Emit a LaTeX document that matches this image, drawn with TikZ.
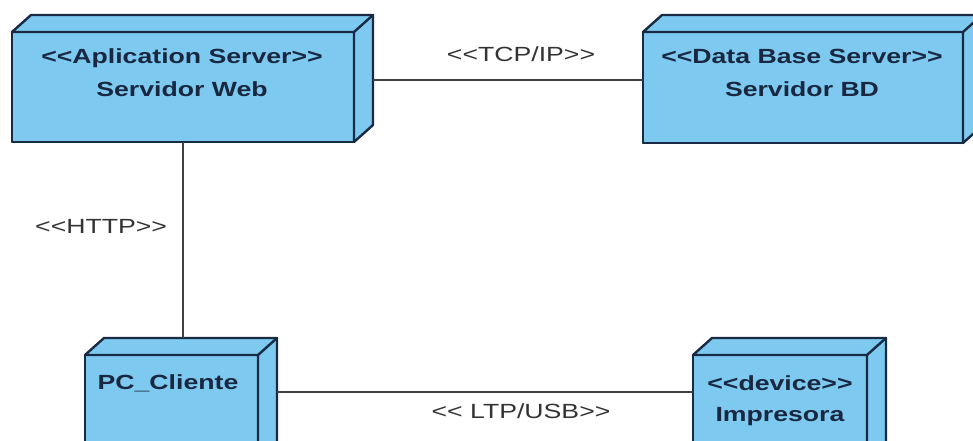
\documentclass[tikz,border=0pt]{standalone}
\usepackage{fontspec}
\usetikzlibrary{calc}
\newfontfamily\boxfont[FakeStretch=1.3,Ligatures=TeXOff]{Liberation Sans}
\definecolor{nodefill}{HTML}{7DC9F0}
\definecolor{nodeedge}{HTML}{192B42}
\definecolor{nodetext}{HTML}{1A2740}
\definecolor{linkgray}{HTML}{404040}
\definecolor{labelgray}{HTML}{333333}
\tikzset{
  front/.style={draw=nodeedge, fill=nodefill, line width=2.4pt, line join=round,
    rectangle, inner sep=0pt, outer sep=0pt, anchor=north west},
  face/.style={draw=nodeedge, fill=nodefill, line width=2.4pt, line join=round},
  edgeonly/.style={draw=nodeedge, line width=2.4pt, line cap=round},
  title/.style={font=\boxfont\bfseries\fontsize{20.5}{24}\selectfont, text=nodetext,
    inner sep=0pt, anchor=base},
  linklabel/.style={font=\boxfont\fontsize{20.5}{24}\selectfont, text=labelgray,
    inner sep=0pt, anchor=base},
  conn/.style={draw=linkgray, line width=2pt}
}
% a UML node: front face plus top and right faces
\newcommand{\umlbox}[5]{%
  \node[front, minimum width=#4, minimum height=#5] (#1) at (#2,#3) {};
  \draw[face] (#1.north west) -- ++(19,-17) -- ([shift={(19,-17)}]#1.north east)
    -- ([shift={(19,-17)}]#1.south east) -- (#1.south east) -- (#1.north east) -- cycle;
  \draw[edgeonly] (#1.north east) -- ++(19,-17);
  \node[front, minimum width=#4, minimum height=#5, fill=none] at (#2,#3) {};
}
\begin{document}
\begin{tikzpicture}[x=1pt,y=-1pt]
\clip (0,0) rectangle (973,441);
\fill[white] (0,0) rectangle (973,441);

\umlbox{web}{12}{32}{342}{110}
\umlbox{bd}{643}{32}{320}{111}
\umlbox{pc}{85}{355}{173}{120}
\umlbox{imp}{693}{355}{174}{120}

% node titles
\node[title] (webst) at (182,64) {<<Aplication Server>>};
\node[title] (webname) at (182,97) {Servidor Web};
\node[title] (bdst) at (802,64) {<<Data Base Server>>};
\node[title] (bdname) at (802,97) {Servidor BD};
\node[title] (pcname) at (168,389) {PC\_Cliente};
\node[title] (impst) at (780,390) {<<device>>};
\node[title] (impname) at (780,421) {Impresora};

% communication paths
\coordinate (webright) at ($(web.north east)+(19,48)$);
\coordinate (pctop) at ($(pc.north)+(0,-17)$);
\draw[conn] (webright) -- (bd.west |- webright);
\draw[conn] (web.south) -- (web.south |- pctop);
\coordinate (pcright) at ($(pc.north east)+(19,37)$);
\draw[conn] (pcright) -- (imp.west |- pcright);

% path labels
\node[linklabel] (tcp) at (521,62) {<<TCP/IP>>};
\node[linklabel, anchor=base west] (http) at (35,233) {<<HTTP>>};
\node[linklabel] (ltp) at (521,418) {<< LTP/USB>>};
\end{tikzpicture}
\end{document}
